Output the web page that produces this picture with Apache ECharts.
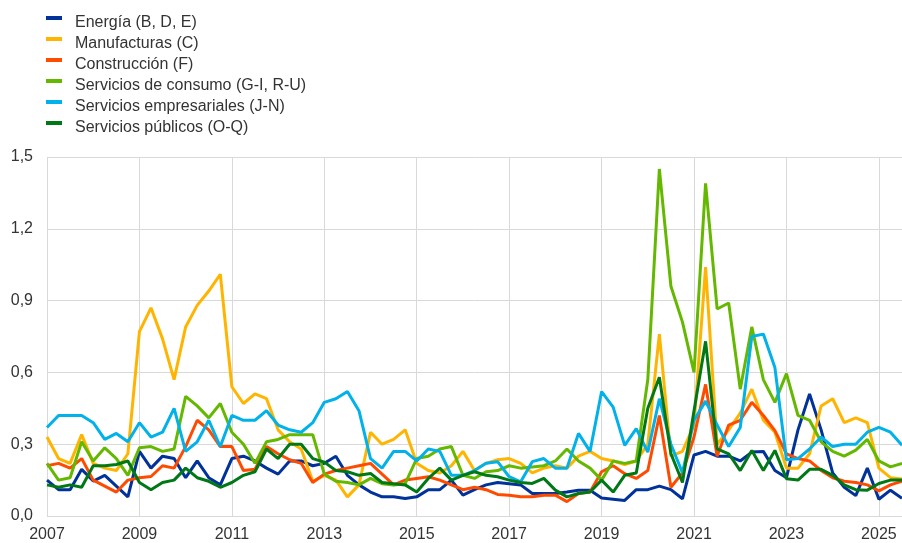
<!DOCTYPE html>
<html>
<head>
<meta charset="utf-8">
<script src="https://cdn.jsdelivr.net/npm/echarts@6/dist/echarts.min.js"></script>
<style>
  html, body { margin: 0; padding: 0; background: #ffffff; }
  #chart { width: 902px; height: 543px; }
</style>
</head>
<body>
<div id="chart"></div>
<script>
// Trimestres 2007 T1 – 2025 T3
const years = [];
for (let y = 2007; y <= 2025; y++) years.push(y);
const quarters = [];
years.forEach(function (y) {
  for (let q = 1; q <= 4; q++) {
    if (y === 2025 && q > 3) break;
    quarters.push(y + ' T' + q);
  }
});

const yTicks = [0, 0.3, 0.6, 0.9, 1.2, 1.5];

const energia = [
  0.15, 0.11, 0.11, 0.195, 0.146, 0.17, 0.125, 0.08,
  0.27, 0.20, 0.25, 0.24, 0.16, 0.23, 0.16, 0.13,
  0.24, 0.25, 0.23, 0.20, 0.175, 0.23, 0.23, 0.21,
  0.22, 0.25, 0.17, 0.13, 0.10, 0.08, 0.08, 0.073,
  0.08, 0.11, 0.11, 0.15, 0.087, 0.11, 0.13, 0.14,
  0.135, 0.13, 0.094, 0.094, 0.094, 0.10, 0.108, 0.108,
  0.075, 0.07, 0.065, 0.11, 0.11, 0.125, 0.11, 0.072,
  0.255, 0.27, 0.25, 0.25, 0.23, 0.267, 0.27, 0.19,
  0.16, 0.36, 0.51, 0.36, 0.18, 0.12, 0.085, 0.20,
  0.07, 0.108, 0.074
];

const manufacturas = [
  0.33, 0.24, 0.22, 0.34, 0.22, 0.20, 0.19, 0.26,
  0.77, 0.87, 0.74, 0.57, 0.79, 0.88, 0.94, 1.01,
  0.54, 0.47, 0.51, 0.49, 0.36, 0.31, 0.28, 0.145,
  0.17, 0.15, 0.08, 0.13, 0.35, 0.30, 0.32, 0.36,
  0.22, 0.19, 0.18, 0.21, 0.27, 0.19, 0.22, 0.235,
  0.24, 0.22, 0.18, 0.20, 0.21, 0.20, 0.25, 0.27,
  0.24, 0.23, 0.215, 0.23, 0.30, 0.76, 0.25, 0.27,
  0.38, 1.04, 0.30, 0.36, 0.43, 0.53, 0.40, 0.35,
  0.20, 0.20, 0.26, 0.46, 0.49, 0.39, 0.41, 0.39,
  0.20, 0.16, 0.155
];

const construccion = [
  0.21, 0.22, 0.20, 0.24, 0.15, 0.125, 0.10, 0.15,
  0.16, 0.165, 0.21, 0.20, 0.29, 0.40, 0.36, 0.29,
  0.29, 0.19, 0.195, 0.29, 0.26, 0.235, 0.22, 0.14,
  0.175, 0.19, 0.20, 0.21, 0.22, 0.175, 0.13, 0.15,
  0.157, 0.164, 0.15, 0.13, 0.11, 0.12, 0.11, 0.09,
  0.087, 0.08, 0.08, 0.087, 0.087, 0.06, 0.094, 0.10,
  0.185, 0.21, 0.177, 0.157, 0.19, 0.42, 0.12, 0.18,
  0.33, 0.55, 0.25, 0.38, 0.40, 0.475, 0.42, 0.357,
  0.26, 0.24, 0.23, 0.19, 0.16, 0.145, 0.14, 0.13,
  0.105, 0.13, 0.145
];

const serviciosConsumo = [
  0.22, 0.15, 0.16, 0.31, 0.23, 0.285, 0.24, 0.17,
  0.285, 0.29, 0.27, 0.28, 0.50, 0.46, 0.41, 0.47,
  0.35, 0.30, 0.22, 0.31, 0.32, 0.34, 0.34, 0.34,
  0.175, 0.145, 0.14, 0.13, 0.157, 0.135, 0.13, 0.135,
  0.24, 0.25, 0.28, 0.29, 0.17, 0.157, 0.185, 0.19,
  0.21, 0.20, 0.205, 0.21, 0.23, 0.28, 0.23, 0.20,
  0.15, 0.23, 0.22, 0.23, 0.57, 1.45, 0.96, 0.81,
  0.60, 1.39, 0.865, 0.89, 0.53, 0.79, 0.57, 0.475,
  0.595, 0.42, 0.40, 0.31, 0.27, 0.25, 0.275, 0.32,
  0.23, 0.205, 0.22
];

const serviciosEmpresariales = [
  0.37, 0.42, 0.42, 0.42, 0.39, 0.32, 0.345, 0.31,
  0.39, 0.33, 0.35, 0.45, 0.27, 0.31, 0.40, 0.29,
  0.42, 0.40, 0.40, 0.44, 0.38, 0.36, 0.35, 0.39,
  0.475, 0.49, 0.52, 0.44, 0.24, 0.20, 0.27, 0.27,
  0.23, 0.28, 0.27, 0.17, 0.17, 0.19, 0.22, 0.227,
  0.164, 0.143, 0.227, 0.24, 0.20, 0.20, 0.345, 0.27,
  0.52, 0.455, 0.295, 0.365, 0.267, 0.49, 0.30, 0.18,
  0.40, 0.48, 0.38, 0.29, 0.37, 0.75, 0.76, 0.62,
  0.235, 0.24, 0.28, 0.33, 0.29, 0.30, 0.30, 0.35,
  0.37, 0.35, 0.296
];

const serviciosPublicos = [
  0.13, 0.12, 0.13, 0.12, 0.21, 0.21, 0.215, 0.23,
  0.14, 0.11, 0.14, 0.15, 0.20, 0.16, 0.145, 0.12,
  0.14, 0.17, 0.185, 0.28, 0.24, 0.30, 0.30, 0.24,
  0.225, 0.19, 0.185, 0.17, 0.178, 0.14, 0.135, 0.13,
  0.10, 0.157, 0.20, 0.15, 0.17, 0.185, 0.17, 0.164,
  0.15, 0.14, 0.136, 0.157, 0.108, 0.08, 0.094, 0.10,
  0.15, 0.10, 0.17, 0.18, 0.45, 0.58, 0.26, 0.14,
  0.44, 0.73, 0.28, 0.26, 0.19, 0.274, 0.19, 0.274,
  0.156, 0.15, 0.195, 0.195, 0.17, 0.13, 0.11, 0.108,
  0.136, 0.15, 0.15
];

const seriesNames = [
  'Energía (B, D, E)',
  'Manufacturas (C)',
  'Construcción (F)',
  'Servicios de consumo (G-I, R-U)',
  'Servicios empresariales (J-N)',
  'Servicios públicos (O-Q)'
];
const seriesColors = ['#003299', '#FFB400', '#FF4B00', '#65B800', '#00B1EA', '#007816'];
const seriesData = [energia, manufacturas, construccion, serviciosConsumo, serviciosEmpresariales, serviciosPublicos];

const FONT = "'Liberation Sans', Arial, sans-serif";
const TEXT_COLOR = '#333333';
const everyTwoYears = function (idx) { return idx % 8 === 0; };

// Legend key: a 4px bar at the top of a 14px box, so it sits above the label's middle
const KEY_ICON = 'path://M0,0H16V4H0Z M0,14H16V14.01H0Z';

const chart = echarts.init(document.getElementById('chart'), null, { renderer: 'canvas' });
chart.setOption({
  animation: false,
  backgroundColor: '#ffffff',
  color: seriesColors,
  legend: {
    orient: 'vertical',
    left: 46,
    top: 15,
    padding: 0,
    itemWidth: 16,
    itemHeight: 14,
    itemGap: 5,
    icon: KEY_ICON,
    textStyle: { fontFamily: FONT, fontSize: 16, color: TEXT_COLOR, lineHeight: 16, padding: [0, 0, 0, 8] },
    data: seriesNames
  },
  grid: { left: 47, right: 0, top: 157, bottom: 26, containLabel: false },
  xAxis: {
    type: 'category',
    boundaryGap: false,
    data: quarters,
    axisLine: { show: false },
    axisTick: { show: false },
    axisLabel: {
      interval: everyTwoYears,
      margin: 11,
      fontFamily: FONT,
      fontSize: 16,
      color: TEXT_COLOR,
      formatter: function (v) { return v.slice(0, 4); }
    },
    splitLine: { show: true, interval: everyTwoYears, lineStyle: { color: '#d9d9d9', width: 1 } }
  },
  yAxis: {
    type: 'value',
    min: yTicks[0],
    max: yTicks[yTicks.length - 1],
    interval: yTicks[1] - yTicks[0],
    axisLine: { show: false },
    axisTick: { show: false },
    axisLabel: {
      margin: 14,
      fontFamily: FONT,
      fontSize: 16,
      color: TEXT_COLOR,
      formatter: function (v) { return v.toFixed(1).replace('.', ','); }
    },
    splitLine: { show: true, lineStyle: { color: '#d9d9d9', width: 1 } }
  },
  series: seriesNames.map(function (name, i) {
    return {
      name: name,
      type: 'line',
      data: seriesData[i],
      showSymbol: false,
      symbol: 'none',
      lineStyle: { width: 3, color: seriesColors[i] },
      itemStyle: { color: seriesColors[i] },
      z: 2 + i
    };
  })
});
</script>
</body>
</html>
